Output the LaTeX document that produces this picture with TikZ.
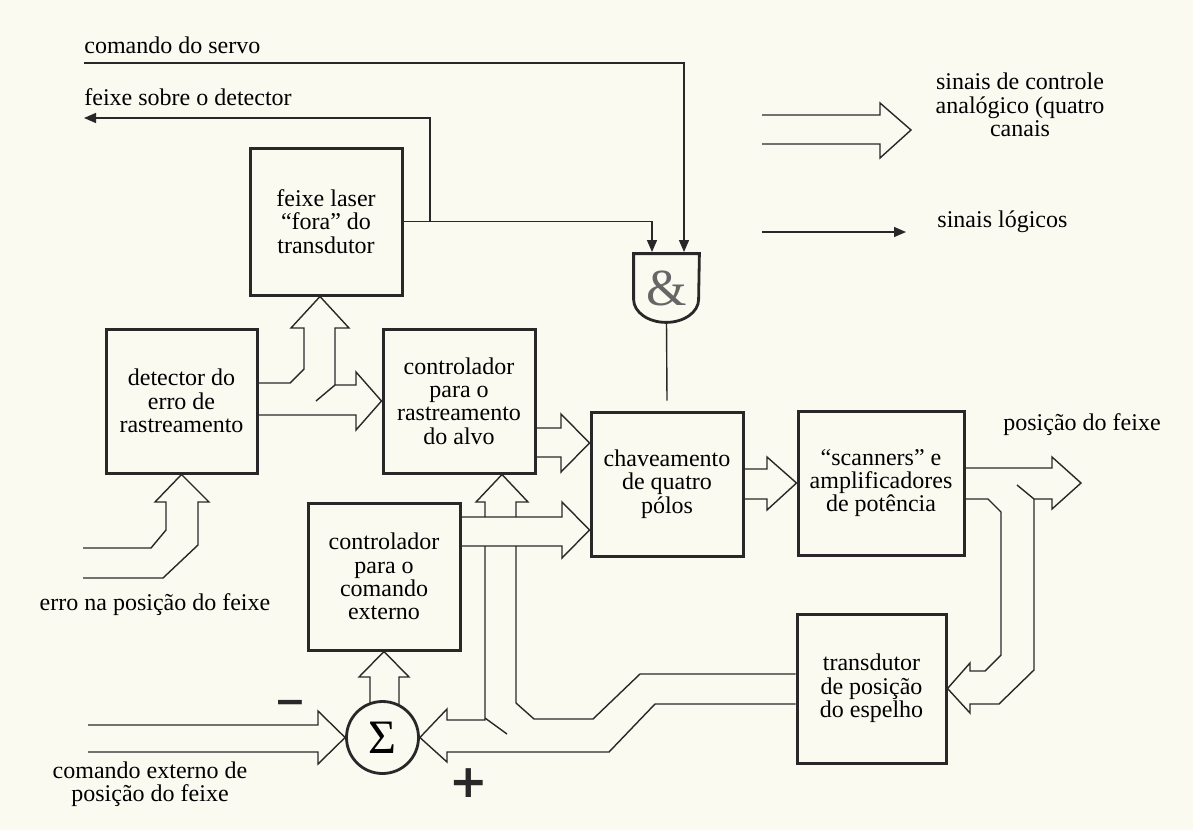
\documentclass[tikz,border=0pt]{standalone}
\usepackage{fontspec}
\setmainfont{Liberation Serif}
\newfontfamily\sinalfont{DejaVu Sans}
\usetikzlibrary{arrows.meta,calc}

\definecolor{papel}{RGB}{251,250,240}
\definecolor{traco}{RGB}{40,40,40}

\tikzset{
  bloco/.style={draw=traco, line width=1.5pt, inner sep=0pt, align=center,
    font=\fontsize{12}{11.7}\selectfont},
  barra/.style={draw=traco, line width=0.7pt, line join=miter},
  sinal/.style={draw=traco, line width=0.7pt, -{Triangle[length=6pt,width=5pt]}},
  rotulo/.style={inner sep=0pt, align=center, font=\fontsize{12}{11.7}\selectfont}
}

\begin{document}
\begin{tikzpicture}[x=0.5pt,y=-0.5pt]
    % paper
    \fill[papel] (0,0) rectangle (1193,830);
    \useasboundingbox (0,0) rectangle (1193,830);

    % blocks
    \node[bloco, minimum width=76pt, minimum height=73.5pt] (laser) at (326,221.5) {feixe laser\\“fora” do\\transdutor};
    \node[bloco, minimum width=75.5pt, minimum height=72pt] (det) at (181.5,401) {detector do\\erro de\\rastreamento};
    \node[bloco, minimum width=76pt, minimum height=72pt] (ctrl) at (459,401) {controlador\\para o\\rastreamento\\do alvo};
    \node[bloco, minimum width=76pt, minimum height=73.5pt] (cmd) at (384,576.5) {controlador\\para o\\comando\\externo};
    \node[bloco, minimum width=76pt, minimum height=72pt] (chave) at (667,484) {chaveamento\\de quatro\\pólos};
    \node[bloco, minimum width=83pt, minimum height=72pt] (scan) at (881,483) {“scanners” e\\amplificadores\\de potência};
    \node[bloco, minimum width=74.5pt, minimum height=74.5pt] (trans) at (871.5,688.5) {transdutor\\de posição\\do espelho};

    % and gate and summing point
    \node[inner sep=0pt, minimum width=32.5pt, minimum height=34pt, text=black!60,
      font=\fontsize{26}{26}\selectfont] (gate) at (666.5,288) {\&};
    \draw[draw=traco, line width=1.4pt] (gate.north west) -- ($(gate.south west)+(0,-23)$)
      arc[start angle=180, end angle=360, x radius=16.25pt, y radius=11.5pt] -- (gate.north east) -- cycle;
    \node[circle, draw=traco, line width=1.4pt, minimum size=36pt, inner sep=0pt,
      font=\fontsize{24}{24}\selectfont] (soma) at (382.5,737.5) {Σ};

    % labels
    \node[rotulo, anchor=west] (servo) at (84,45) {comando do servo};
    \node[rotulo, anchor=west] (fdet) at (84,97) {feixe sobre o detector};
    \node[rotulo] (analog) at (1020,105) {sinais de controle\\analógico (quatro\\canais};
    \node[rotulo, anchor=west] (logic) at (937,222) {sinais lógicos};
    \node[rotulo] (posf) at (1082,425) {posição do feixe};
    \node[rotulo] (erro) at (155,605) {erro na posição do feixe};
    \node[rotulo] (cext) at (150,784) {comando externo de\\posição do feixe};
    \node[inner sep=0pt, text=traco, font=\sinalfont\fontsize{19}{19}\selectfont\bfseries] (menos) at (290,707) {−};
    \node[inner sep=0pt, text=traco, font=\sinalfont\fontsize{23}{23}\selectfont\bfseries] (mais) at (469,783) {+};

    % logic signals
    \coordinate (servoini) at (84,63);
    \coordinate (detfim) at (84,118);
    \coordinate (ramo) at (430,222);
    \coordinate (in1) at (652,252);
    \coordinate (in2) at (684,252);
    \draw[sinal] (servoini) -| (in2);
    \draw[sinal] (laser.east) -| (in1);
    \draw[sinal] (ramo) |- (detfim);
    \draw[barra] (gate.south) -- ($(chave.north)+(0,-10)$);

    % legend
    \coordinate (leg1) at (762,232);
    \coordinate (leg2) at (906,232);
    \draw[barra] (762,115) -- (880,115) -- (880,103) -- (911,130) -- (880,158) -- (880,144) -- (762,144);
    \draw[sinal] (leg1) -- (leg2);

    % detector to laser and to ctrl
    \draw[barra] (det.east |- 0,383) -- (290,383) -- (304,369) -- (304,328) -- (291,328) -- (laser.south -| 320,0)
      -- (349,328) -- (335,328) -- (335,385) -- (356,385) -- (356,372) -- (ctrl.west) -- (356,430) -- (356,415)
      -- (det.east |- 0,415);
    \draw[barra] (335,385) -- (316,401);

    % ctrl to chave
    \draw[barra] (ctrl.east |- 0,428) -- (561,428) -- (561,414) -- (chave.west |- 0,443) -- (561,472) -- (561,457)
      -- (ctrl.east |- 0,457);

    % cmd to chave and to ctrl
    \draw[barra] (cmd.east |- 0,517) -- (562,517) -- (562,502) -- (chave.west |- 0,530) -- (562,558) -- (562,546)
      -- (cmd.east |- 0,546);
    \draw[barra] (485,517) -- (485,502) -- (476,502) -- (ctrl.south -| 502,0) -- (528,502) -- (516,502) -- (516,517);

    % feedback from trans to soma
    \draw[barra] (485,546) -- (485,720) -- (447,720) -- (447,709) -- (soma.east) -- (447,762) -- (447,752)
      -- (609,752) -- (655,704) -- (trans.west |- 0,704);
    \draw[barra] (485,718) -- (507,734);
    \draw[barra] (516,546) -- (516,703) -- (534,719) -- (593,719) -- (640,674) -- (trans.west |- 0,674);

    % soma to cmd
    \draw[barra] (370,704) -- (370,677) -- (359,677) -- (cmd.south) -- (409,677) -- (399,677) -- (399,704);

    % inputs
    \draw[barra] (88,725) -- (318,725) -- (318,711) -- (soma.west) -- (318,764) -- (318,752) -- (88,752);
    \draw[barra] (83,548) -- (151,548) -- (166,530) -- (166,502) -- (155,502) -- (det.south) -- (209,502)
      -- (198,502) -- (198,545) -- (163,578) -- (83,578);

    % chave to scan
    \draw[barra] (chave.east |- 0,469) -- (767,469) -- (767,457) -- (scan.west) -- (767,510) -- (767,499)
      -- (chave.east |- 0,499);

    % scan to output and to trans
    \coordinate (saida) at (1081,483);
    \draw[barra] (scan.east |- 0,468) -- (1052,468) -- (1052,457) -- (saida) -- (1052,509) -- (1052,499)
      -- (1034,499) -- (1034,670) -- (999,704) -- (970,704) -- (970,713) -- (trans.east) -- (970,663)
      -- (970,671) -- (985,671) -- (1001,655) -- (1001,512) -- (988,499) -- (scan.east |- 0,499);
    \draw[barra] (1034,499) -- (1017,485);
\end{tikzpicture}
\end{document}
